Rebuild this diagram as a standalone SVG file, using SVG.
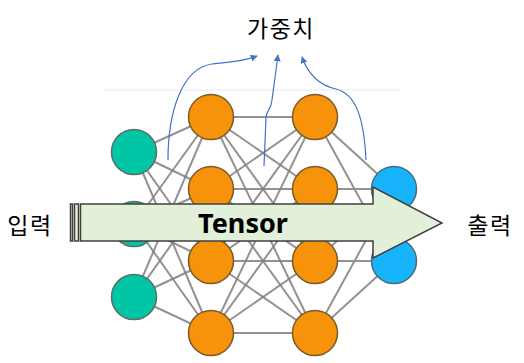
<svg xmlns="http://www.w3.org/2000/svg" width="524" height="363" viewBox="0 0 524 363">
<defs>
<style>
.e{stroke:#7f7f7f;stroke-width:2;stroke-opacity:0.85;fill:none}
.in{fill:#00C6A5;stroke:#5a6b66;stroke-width:1.5}
.hid{fill:#F7930A;stroke:#7a5a2a;stroke-width:1.5}
.out{fill:#18B4FB;stroke:#4a6a80;stroke-width:1.5}
.w{stroke:#4472C4;stroke-width:1.2;fill:none;marker-end:url(#ah)}
.kr{font-family:"Noto Sans CJK KR","Noto Sans",sans-serif;font-size:23px;letter-spacing:1.5px;fill:#000}
.arr{fill:#E2EFD9;stroke:#404040;stroke-width:1.5}
</style>
<marker id="ah" viewBox="0 0 10 10" refX="9" refY="5" markerWidth="7" markerHeight="7" markerUnits="userSpaceOnUse" orient="auto">
<path d="M0,0 L10,5 L0,10 z" fill="#4472C4"/>
</marker>
</defs>
<rect width="524" height="363" fill="#fff"/>
<line x1="104" y1="90" x2="400" y2="90" stroke="#e6eaf2" stroke-width="1.2"/>
<g id="connectors">
<path class="e" d="M134,152L211,117M134,152L211,189M134,152L211,261M134,152L211,333"/>
<path class="e" d="M134,224L211,117M134,224L211,189M134,224L211,261M134,224L211,333"/>
<path class="e" d="M134,297L211,117M134,297L211,189M134,297L211,261M134,297L211,333"/>
<path class="e" d="M211,117L315,117M211,117L315,189M211,117L315,261M211,117L315,333"/>
<path class="e" d="M211,189L315,117M211,189L315,189M211,189L315,261M211,189L315,333"/>
<path class="e" d="M211,261L315,117M211,261L315,189M211,261L315,261M211,261L315,333"/>
<path class="e" d="M211,333L315,117M211,333L315,189M211,333L315,261M211,333L315,333"/>
<path class="e" d="M315,117L394,189M315,117L394,261M315,189L394,189M315,189L394,261M315,261L394,189M315,261L394,261M315,333L394,189M315,333L394,261"/>
<path class="w" d="M168,160 C168,112 182,68 212,64 C232,62 244,61 257,56"/>
<path class="w" d="M264,166 L266,118 C266,110 271,111 272,100 L278,55"/>
<path class="w" d="M366,160 C364,118 356,94 336,89 C318,85 308,74 302,57"/>
</g>
<g id="input1"><circle class="in" cx="134" cy="152" r="22.5"/></g>
<g id="input2"><circle class="in" cx="134" cy="224" r="22.5"/></g>
<g id="input3"><circle class="in" cx="134" cy="297" r="22.5"/></g>
<g id="h1a"><circle class="hid" cx="211" cy="117" r="22.5"/></g>
<g id="h1b"><circle class="hid" cx="211" cy="189" r="22.5"/></g>
<g id="h1c"><circle class="hid" cx="211" cy="261" r="22.5"/></g>
<g id="h1d"><circle class="hid" cx="211" cy="333" r="22.5"/></g>
<g id="h2a"><circle class="hid" cx="315" cy="117" r="22.5"/></g>
<g id="h2b"><circle class="hid" cx="315" cy="189" r="22.5"/></g>
<g id="h2c"><circle class="hid" cx="315" cy="261" r="22.5"/></g>
<g id="h2d"><circle class="hid" cx="315" cy="333" r="22.5"/></g>
<g id="out1"><circle class="out" cx="394" cy="189" r="22.5"/></g>
<g id="out2"><circle class="out" cx="394" cy="261" r="22.5"/></g>
<g id="tensor-arrow">
<rect class="arr" x="70.5" y="204" width="2" height="37" stroke-width="1"/>
<rect class="arr" x="74.5" y="204" width="4" height="37" stroke-width="1"/>
<path class="arr" d="M80.5,204 L373,204 L373,187 L442,223 L373,258 L373,241 L80.5,241 Z"/>
<text x="243" y="233" text-anchor="middle" font-family="'Noto Sans','Liberation Sans',sans-serif" font-weight="bold" font-size="27" fill="#000">Tensor</text>
</g>
<g id="labels">
<text class="kr" x="281" y="37" text-anchor="middle">가중치</text>
<text class="kr" x="30" y="234" text-anchor="middle">입력</text>
<text class="kr" x="490" y="234" text-anchor="middle">출력</text>
</g>
</svg>
